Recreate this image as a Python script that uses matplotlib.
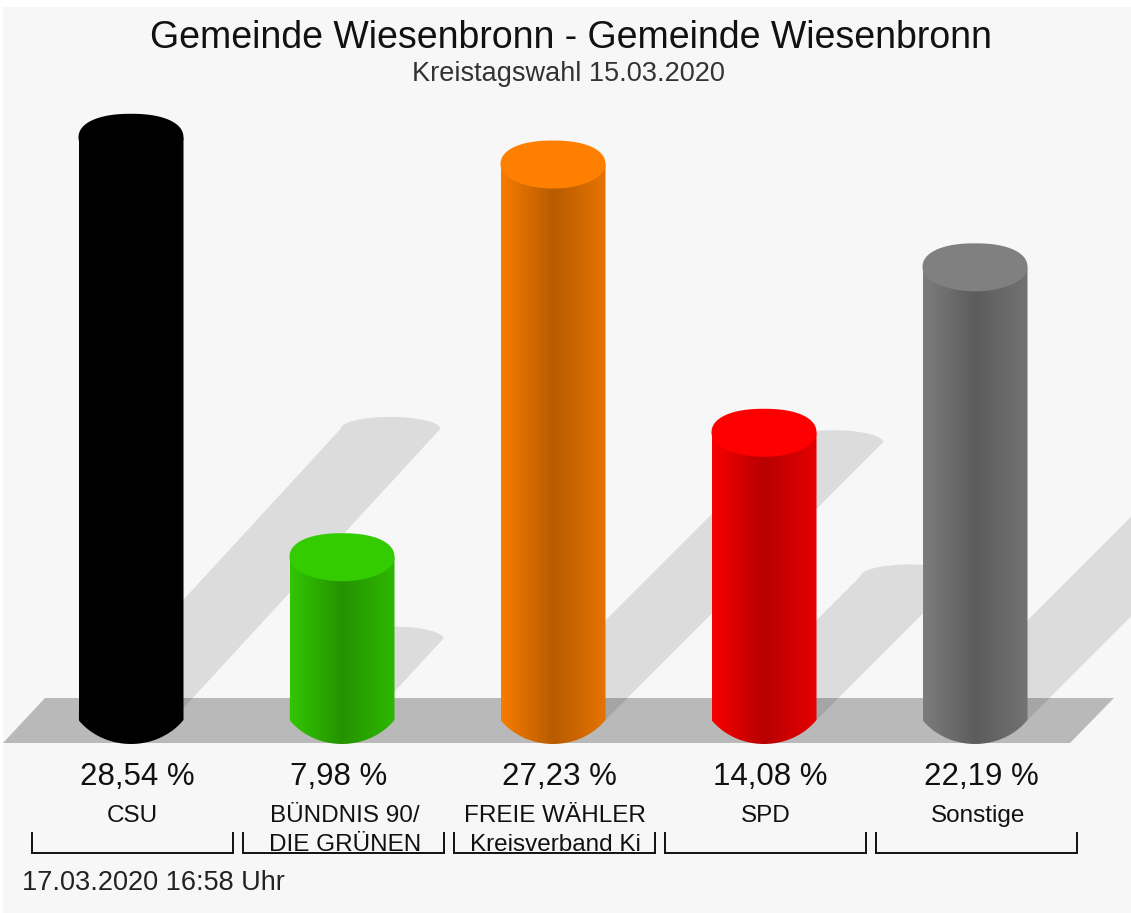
import numpy as np
import matplotlib
matplotlib.use("Agg")
import matplotlib.pyplot as plt
from matplotlib.path import Path
from matplotlib.patches import PathPatch, Polygon, Rectangle
from matplotlib.colors import to_rgb

# --- data ---
title = "Gemeinde Wiesenbronn - Gemeinde Wiesenbronn"
subtitle = "Kreistagswahl 15.03.2020"
timestamp = "17.03.2020 16:58 Uhr"
parties = ["CSU", "BÜNDNIS 90/\nDIE GRÜNEN", "FREIE WÄHLER\nKreisverband Ki", "SPD", "Sonstige"]
values = [28.54, 7.98, 27.23, 14.08, 22.19]
value_labels = ["28,54 %", "7,98 %", "27,23 %", "14,08 %", "22,19 %"]
colors = ["#000000", "#33CC00", "#FF8000", "#FF0000", "#808080"]

# --- layout, in pixels of the 1131x913 picture ---
W, H = 1131, 913
X0, DX = 131, 211          # first bar centre, bar spacing
BASE_Y, PX_PER_PCT = 720, 20.4
BAR_HW, ELL_H = 52.5, 24
# the first two shadows start further left and lean less
shadow_shift = [-11, -26, 0, 0, 0]
shadow_lean = [0.92, 0.92, 1.0, 1.0, 1.0]
# text centres that do not sit exactly on the bar spacing
value_x = [137, 339, 559, 770, 981]
label_x = [132, 345, 555, 766, 978]
bracket_x = [32, 243, 454, 665, 876]

fig = plt.figure(figsize=(W / 100, H / 100), dpi=100, facecolor="white")
ax = fig.add_axes([0, 0, 1, 1])
xlim = ((0 - X0) / DX, (W - X0) / DX)
ylim = ((BASE_Y - H) / PX_PER_PCT, BASE_Y / PX_PER_PCT)
ax.axis("off")

hw = BAR_HW / DX
eh = ELL_H / PX_PER_PCT
sx = 1 / DX
sy = 1 / PX_PER_PCT


def px(x, y):
    # picture pixels to axes fraction
    return x / W, 1 - y / H


ax.add_patch(Rectangle(px(3, H), 1, 1 - 7 / H, transform=ax.transAxes, fc="#F7F7F7", ec="none", zorder=0))

# floor
ax.add_patch(Polygon([px(45, 698), px(1114, 698), px(1070, 743), px(3, 743)], transform=ax.transAxes,
                     fc="#B9B9B9", ec="none", zorder=1))

# shadows
t = np.linspace(0, np.pi, 40)
for i, v in enumerate(values):
    rise = v / 2
    run = v * PX_PER_PCT / 2 * shadow_lean[i] * sx
    shift = shadow_shift[i] * sx
    width = 2 * hw * 0.95
    right = i + hw + shift
    left = right - width
    arc_x = (left + right) / 2 + run + np.cos(t) * width / 2
    arc_y = rise + np.sin(t) * 12 * sy
    # keep the foot of the shadow behind its bar
    bar_left = i - hw
    cross = max(bar_left - left, 0) / run * rise
    xs = np.r_[right, arc_x, max(left, bar_left), bar_left]
    ys = np.r_[0, arc_y, cross, 0]
    ax.add_patch(Polygon(np.column_stack([xs, ys]), fc="black", alpha=0.105, ec="none", zorder=2))

# cylinders
for i, (v, c) in enumerate(zip(values, colors)):
    rgb = np.array(to_rgb(c))
    ramp = np.interp(np.linspace(0, 1, 105), [0, 0.5, 1], [0.97, 0.72, 0.9])
    img = (ramp[:, None] * rgb[None, :])[None, :, :]
    # foot is a flat arc that meets the sides at an angle
    u0 = np.arccos(0.8)
    u = np.linspace(np.pi + u0, 2 * np.pi - u0, 40)
    foot_x = i + np.cos(u) / 0.8 * hw
    foot_y = (np.sin(u) + np.sin(u0)) / (1 - np.sin(u0)) * eh
    xs = np.r_[i - hw, foot_x, i + hw, i + hw, i - hw]
    ys = np.r_[0, foot_y, 0, v, v]
    body = PathPatch(Path(np.column_stack([xs, ys])), fc="none", ec="none", zorder=3)
    ax.add_patch(body)
    im = ax.imshow(img, extent=[i - hw, i + hw, -eh, v], aspect="auto", interpolation="bilinear", zorder=3)
    im.set_clip_path(body)
    # lid: a little squarer above, plain ellipse below
    a = np.linspace(0, 2 * np.pi, 120)
    n = np.where(np.sin(a) > 0, 2.25, 2.0)
    lid_x = i + np.sign(np.cos(a)) * np.abs(np.cos(a)) ** (2 / n) * hw
    lid_y = v + np.sign(np.sin(a)) * np.abs(np.sin(a)) ** (2 / n) * eh
    ax.add_patch(Polygon(np.column_stack([lid_x, lid_y]), fc=c, ec="none", zorder=4))

ax.set_xlim(xlim)
ax.set_ylim(ylim)

font = "Liberation Sans"
tx = ax.transAxes
ax.text(*px(571, 38), title, transform=tx, ha="center", va="center", fontsize=27, family=font, color="#111111")
ax.text(*px(568, 74), subtitle, transform=tx, ha="center", va="center", fontsize=19.5, family=font, color="#333333")
ax.text(*px(22, 883), timestamp, transform=tx, ha="left", va="center", fontsize=19.5, family=font, color="#222222")

for i, (name, lab) in enumerate(zip(parties, value_labels)):
    ax.text(*px(value_x[i], 777), lab, transform=tx, ha="center", va="center", fontsize=22.5, family=font, color="#111111")
    for j, line in enumerate(name.split("\n")):
        ax.text(*px(label_x[i], 816 + 29 * j), line, transform=tx, ha="center", va="center",
                fontsize=17.5, family=font, color="#111111")
    # bracket below the label
    x0 = bracket_x[i]
    x1 = x0 + 201
    ax.plot(*zip(px(x0, 833), px(x0, 853), px(x1, 853), px(x1, 833)), transform=tx, color="#111111", lw=1.4, zorder=5,
            solid_joinstyle="miter")

fig.savefig("out.png", dpi=100, facecolor="white")
